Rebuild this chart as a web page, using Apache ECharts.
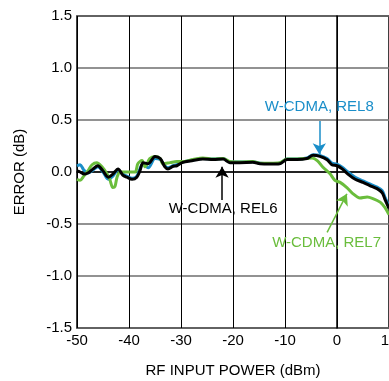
<!DOCTYPE html>
<html lang="en">
<head>
    <meta charset="UTF-8">
    <title>Error vs RF input power</title>
    <script src="https://cdn.jsdelivr.net/npm/echarts@6/dist/echarts.min.js"></script>
</head>
<body style="margin:0;padding:0;background:#fff;">
<div id="main" style="width:389px;height:381px;"></div>

<script type="text/javascript">
    // x ticks and y ticks
    var xTicks = [-50, -40, -30, -20, -10, 0, 10];
    var yTicks = [-1.5, -1.0, -0.5, 0.0, 0.5, 1.0, 1.5];

    // W-CDMA, REL6 (black)
    var rel6X = [-50, -49.4, -48.7, -47.9, -46.9, -46.0, -45.0, -44.0, -43.1, -42.1, -41.2, -40.4, -39.4, -38.5, -37.9, -37.3, -36.3, -35.0, -34.0, -33.1, -32.5, -31.5, -30.8, -29.8, -27.7, -25.8, -23.8, -21.9, -20.6, -18.7, -16.2, -14.8, -12.9, -11.0, -9.6, -7.7, -5.8, -4.6, -3.3, -1.9, -1.0, 0.0, 1.0, 2.1, 3.5, 5.0, 6.3, 7.7, 8.7, 9.2, 10];
    var rel6Y = [0.01, 0.0, -0.02, -0.01, 0.03, 0.06, 0.01, -0.05, -0.02, 0.03, -0.03, -0.05, -0.07, -0.05, 0.01, 0.09, 0.08, 0.15, 0.13, 0.05, 0.03, 0.055, 0.06, 0.09, 0.11, 0.125, 0.12, 0.125, 0.09, 0.09, 0.093, 0.08, 0.077, 0.08, 0.12, 0.12, 0.13, 0.16, 0.15, 0.118, 0.07, 0.06, 0.03, -0.02, -0.07, -0.10, -0.13, -0.16, -0.2, -0.26, -0.35];

    // W-CDMA, REL8 (blue)
    var rel8X = [-50, -49.4, -48.7, -47.9, -46.9, -46.0, -45.0, -44.0, -43.1, -42.1, -41.2, -40.4, -39.4, -38.5, -37.9, -37.3, -36.3, -35.0, -34.0, -33.1, -32.5, -31.5, -30.8, -29.8, -27.7, -25.8, -23.8, -21.9, -20.6, -18.7, -16.2, -14.8, -12.9, -11.0, -9.6, -7.7, -5.8, -4.6, -3.3, -1.9, -1.0, 0.0, 1.0, 2.1, 3.5, 5.0, 6.3, 7.7, 8.7, 9.2, 10];
    var rel8Y = [0.06, 0.07, 0.02, -0.01, 0.02, 0.05, 0.0, -0.07, -0.04, 0.02, -0.02, -0.04, -0.06, -0.04, 0.03, 0.08, 0.04, 0.13, 0.12, 0.06, 0.04, 0.06, 0.07, 0.095, 0.115, 0.13, 0.125, 0.13, 0.095, 0.095, 0.098, 0.085, 0.082, 0.085, 0.125, 0.125, 0.135, 0.165, 0.16, 0.13, 0.085, 0.075, 0.045, 0.0, -0.05, -0.085, -0.115, -0.145, -0.18, -0.24, -0.33];

    // W-CDMA, REL7 (green)
    var rel7X = [-50, -49.4, -48.7, -47.9, -47.1, -46.2, -45.2, -44.2, -43.7, -43.1, -42.7, -42.3, -41.7, -40.8, -39.8, -38.8, -38.3, -37.5, -36.9, -36.0, -35.0, -34.0, -33.5, -32.1, -30.8, -29.8, -27.7, -25.8, -23.8, -21.9, -20.6, -18.7, -16.2, -14.8, -12.9, -11.0, -9.6, -7.7, -5.8, -4.8, -3.8, -2.7, -1.3, -0.4, 0.6, 1.9, 3.1, 4.4, 5.8, 6.9, 8.3, 9.2, 10];
    var rel7Y = [-0.07, -0.08, -0.04, 0.01, 0.07, 0.09, 0.05, -0.02, -0.07, -0.15, -0.14, -0.05, 0.0, 0.0, 0.0, 0.0, 0.08, 0.11, 0.05, 0.13, 0.15, 0.13, 0.08, 0.09, 0.1, 0.1, 0.12, 0.135, 0.125, 0.13, 0.1, 0.095, 0.1, 0.085, 0.085, 0.09, 0.125, 0.125, 0.13, 0.135, 0.11, 0.045, -0.02, -0.08, -0.10, -0.15, -0.21, -0.25, -0.24, -0.255, -0.29, -0.34, -0.41];

    var blue = '#1a8ec9';
    var green = '#6abd3c';
    var black = '#000000';
    var font = '"Liberation Sans", Arial, sans-serif';

    function zip(xs, ys) {
        return xs.map(function (x, i) { return [x, ys[i]]; });
    }

    // arrow + label for each curve, in data units
    function annot(color, text, textAt, from, to) {
        return {
            markLine: {
                silent: true,
                symbol: ['none', 'arrow'],
                symbolSize: [10, 11],
                lineStyle: {color: color, width: 1.5, type: 'solid'},
                label: {show: false},
                data: [[{coord: from}, {coord: to}]]
            },
            markPoint: {
                silent: true,
                symbol: 'circle',
                symbolSize: 0,
                label: {show: true, position: 'inside', formatter: text, color: color, fontSize: 15, fontFamily: font},
                data: [{coord: textAt}]
            }
        };
    }

    var myChart = echarts.init(document.getElementById('main'));

    var a8 = annot(blue, 'W-CDMA, REL8', [-3.4, 0.625], [-3.4, 0.49], [-3.4, 0.17]);
    var a6 = annot(black, 'W-CDMA, REL6', [-21.9, -0.356], [-22.1, -0.27], [-22.1, 0.05]);
    var a7 = annot(green, 'W-CDMA, REL7', [-2.0, -0.678], [-1.9, -0.58], [1.9, -0.21]);

    var option = {
        animation: false,
        grid: {
            left: 77, right: 0, top: 16, bottom: 53,
            outerBoundsMode: 'none', containLabel: false,
            show: true, borderColor: '#000', borderWidth: 1.5
        },
        xAxis: {
            type: 'value',
            min: xTicks[0], max: xTicks[xTicks.length - 1], interval: 10,
            name: 'RF INPUT POWER (dBm)',
            nameLocation: 'middle',
            nameGap: 35,
            nameTextStyle: {color: '#000', fontSize: 15, fontFamily: font},
            axisLine: {show: true, lineStyle: {color: '#000', width: 1.5}},
            axisTick: {show: false},
            axisLabel: {color: '#000', fontSize: 15, fontFamily: font, margin: 5, showMaxLabel: true, hideOverlap: false},
            splitLine: {show: true, lineStyle: {color: '#000', width: 1}}
        },
        yAxis: {
            type: 'value',
            min: yTicks[0], max: yTicks[yTicks.length - 1], interval: 0.5,
            name: 'ERROR (dB)',
            nameLocation: 'middle',
            nameGap: 50,
            nameTextStyle: {color: '#000', fontSize: 15, fontFamily: font},
            axisLine: {show: true, lineStyle: {color: '#000', width: 1.5}},
            axisTick: {show: false},
            axisLabel: {
                color: '#000', fontSize: 15, fontFamily: font, margin: 5,
                formatter: function (v) { return v.toFixed(1); }
            },
            splitLine: {show: true, lineStyle: {color: '#6e6e6e', width: 1.5}}
        },
        series: [
            {
                name: 'W-CDMA, REL8', type: 'line', data: zip(rel8X, rel8Y), smooth: 0.3,
                showSymbol: false, lineStyle: {color: blue, width: 3}, itemStyle: {color: blue},
                markLine: a8.markLine, markPoint: a8.markPoint
            },
            {
                name: 'W-CDMA, REL7', type: 'line', data: zip(rel7X, rel7Y), smooth: 0.3,
                showSymbol: false, lineStyle: {color: green, width: 3}, itemStyle: {color: green},
                markLine: a7.markLine, markPoint: a7.markPoint
            },
            {
                name: 'W-CDMA, REL6', type: 'line', data: zip(rel6X, rel6Y), smooth: 0.3,
                showSymbol: false, lineStyle: {color: black, width: 3}, itemStyle: {color: black},
                markLine: a6.markLine, markPoint: a6.markPoint
            }
        ]
    };

    myChart.setOption(option);
</script>
</body>
</html>
